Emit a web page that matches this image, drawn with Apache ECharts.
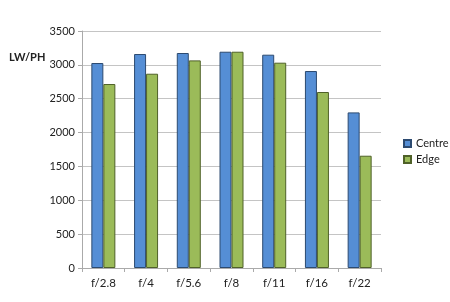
<!DOCTYPE html>
<html><head><meta charset="utf-8">
<script src="https://cdn.jsdelivr.net/npm/echarts@6/dist/echarts.min.js"></script>
<style>html,body{margin:0;padding:0;background:#fff}#c{width:450px;height:302px}</style>
</head><body><div id="c"></div>
<script>
var categories = ['f/2.8','f/4','f/5.6','f/8','f/11','f/16','f/22'];
var centre = [3027,3160,3175,3194,3150,2909,2298];
var edge = [2717,2869,3066,3194,3032,2599,1658];
var yTicks = [0,500,1000,1500,2000,2500,3000,3500];
var chart = echarts.init(document.getElementById('c'));
var font = 'Lato, sans-serif';
chart.setOption({
  animation:false,
  textStyle:{fontFamily:font},
  grid:{left:82,right:69,top:31,bottom:34},
  graphic:[{type:'text',left:9,top:52,style:{text:'LW/PH',font:'bold 11px '+font,fill:'#222'}}],
  legend:{orient:'vertical',left:403,top:138,padding:0,itemWidth:7,itemHeight:7,itemGap:5,
    textStyle:{fontSize:11,color:'#222',fontFamily:font},
    data:[{name:'Centre',icon:'rect'},{name:'Edge',icon:'rect'}]},
  xAxis:{type:'category',data:categories,
    axisLine:{lineStyle:{color:'#aaa'}},
    axisTick:{show:true,length:4,lineStyle:{color:'#aaa'}},
    axisLabel:{fontSize:11.5,color:'#222',margin:9}},
  yAxis:{type:'value',min:yTicks[0],max:yTicks[yTicks.length-1],interval:500,
    axisLine:{show:true,lineStyle:{color:'#aaa'}},
    axisTick:{show:true,length:4,lineStyle:{color:'#aaa'}},
    axisLabel:{fontSize:11,color:'#222',margin:7,formatter:function(v){return String(v);}},
    splitLine:{lineStyle:{color:'#c4c4c4'}}},
  series:[
    {name:'Centre',type:'bar',data:centre,barWidth:12,barGap:'0%',
      itemStyle:{color:'#558ed5',borderColor:'#2c4a70',borderWidth:1}},
    {name:'Edge',type:'bar',data:edge,barWidth:12,
      itemStyle:{color:'#9bbb59',borderColor:'#4f6128',borderWidth:1}}
  ]
});
</script></body></html>
